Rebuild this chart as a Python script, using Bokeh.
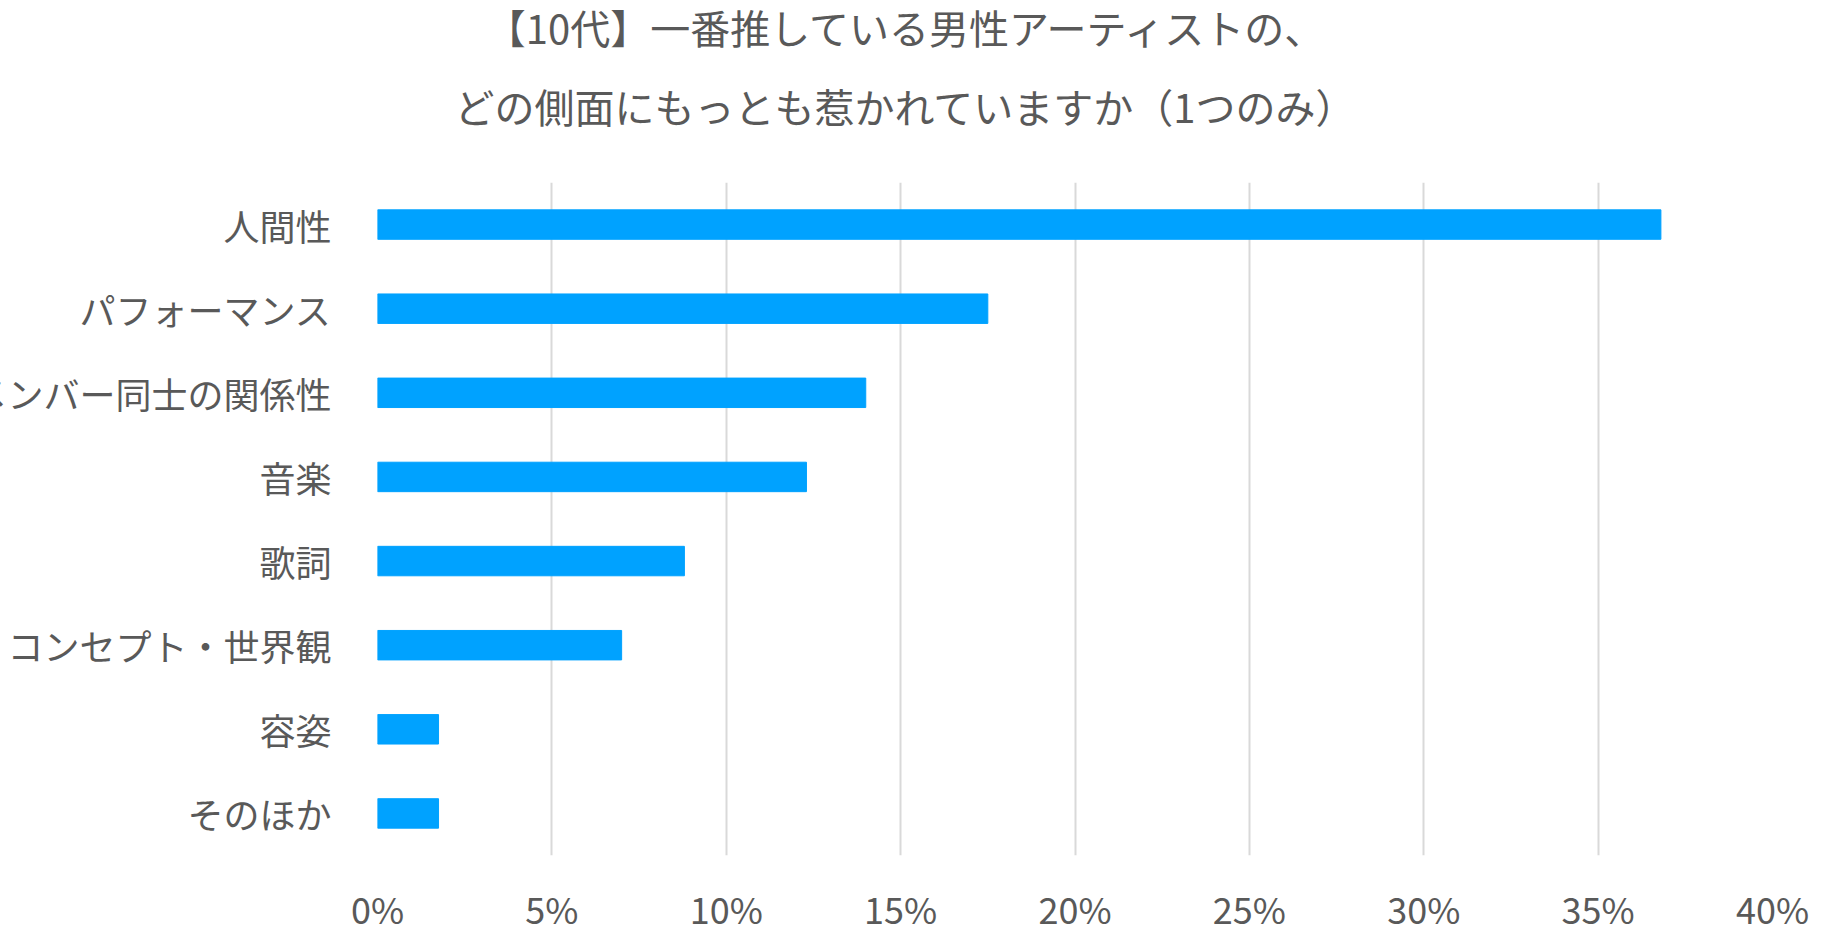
from bokeh.plotting import figure
from bokeh.layouts import column
from bokeh.models import Div, FactorRange, FixedTicker, CustomJSTickFormatter
from bokeh.embed import file_html
from bokeh.resources import INLINE

categories = ["人間性", "パフォーマンス", "メンバー同士の関係性", "音楽", "歌詞", "コンセプト・世界観", "容姿", "そのほか"]
values = [36.8, 17.5, 14.0, 12.3, 8.8, 7.0, 1.75, 1.75]
ticks = [0, 5, 10, 15, 20, 25, 30, 35, 40]

FONT = "Noto Sans CJK JP"
GRAY = "#595959"

title = Div(
    text="【10代】一番推している男性アーティストの、<br>どの側面にもっとも惹かれていますか（1つのみ）",
    width=1810, height=180, margin=(0, 0, 0, 0),
    styles={"text-align": "center", "font-family": FONT, "font-size": "40px",
            "color": GRAY, "line-height": "79px", "margin-top": "-12px"},
)

p = figure(y_range=FactorRange(*reversed(categories)), x_range=(0, 40),
           frame_width=1451, frame_height=691, min_border_left=420, min_border_top=14,
           min_border_right=0, min_border_bottom=60,
           output_backend="svg", toolbar_location=None, margin=(0, 0, 0, -43))
p.hbar(y=categories, right=values, height=0.35, color="#00a2ff")
p.xaxis.ticker = FixedTicker(ticks=ticks)
p.xaxis.formatter = CustomJSTickFormatter(code="return tick + '%';")
for ax in (p.xaxis[0], p.yaxis[0]):
    ax.axis_line_color = None
    ax.major_tick_line_color = None
    ax.minor_tick_line_color = None
    ax.major_label_text_font = FONT
    ax.major_label_text_font_size = "36px"
    ax.major_label_text_color = GRAY
p.yaxis.major_label_standoff = 40
p.xaxis.major_label_standoff = 20
p.ygrid.grid_line_color = None
p.xgrid.grid_line_color = "#d9d9d9"
p.xgrid.grid_line_width = 2
p.outline_line_color = None

layout = column(title, p, spacing=0, width=1815, height=936,
                styles={"overflow": "hidden"})
open("out.html", "w").write(file_html(layout, INLINE))
